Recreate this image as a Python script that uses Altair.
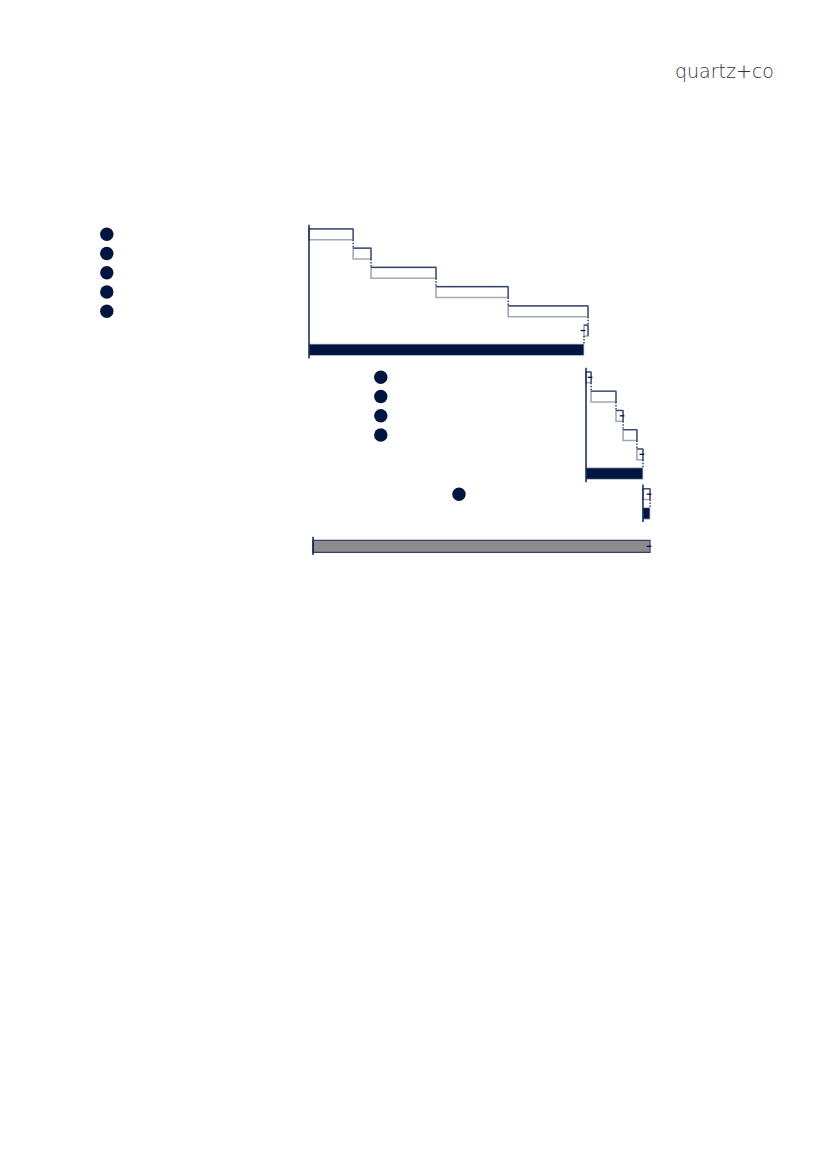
import altair as alt
import pandas as pd

# ---- data (units: % of overall total) ----
labels = ["A1", "A2", "A3", "A4", "A5", "A6", "Total A",
          "B1", "B2", "B3", "B4", "B5", "Total B",
          "C1", "Total C", "Grand total"]
starts = [0.0, 13.1, 18.4, 37.7, 59.1, 82.8, 0.0,
          82.2, 83.7, 91.1, 93.2, 97.3, 82.2,
          99.1, 99.1, 1.2]
ends = [13.1, 18.4, 37.7, 59.1, 82.8, 81.6, 81.6,
        83.7, 91.1, 93.2, 97.3, 99.1, 99.1,
        101.2, 101.2, 101.2]
kinds = ["step"] * 6 + ["total"] + ["step"] * 5 + ["total"] + ["step", "total", "grand"]
sections = [1] * 7 + [2] * 6 + [3] * 2 + [4]
marked = ["A1", "A2", "A3", "A4", "A5", "B1", "B2", "B3", "B4", "C1"]
leaders = ["A6", "B1", "B3", "B5", "C1", "Grand total"]

# ---- layout (not data) ----
NAVY = "#001641"
EDGE = "#34426b"
LIGHT = "#a3a8b8"
gap = {1: 0.0, 2: 0.43, 3: 0.5, 4: 1.21}
half = {"step": 0.28, "total": 0.3, "grand": 0.31}
marker_x = {1: -60.0, 2: 21.3, 3: 44.5}

rows = []
for i, (lab, s, e, k, sec) in enumerate(zip(labels, starts, ends, kinds, sections)):
    slot = i + gap[sec]
    rows.append(dict(label=lab, start=s, end=e, kind=k, section=sec, slot=slot,
                     top=slot - half[k], bot=slot + half[k],
                     lo=min(s, e), hi=max(s, e)))
df = pd.DataFrame(rows)

con = []
for a, b in zip(rows[:-1], rows[1:]):
    if a["section"] == b["section"]:
        con.append(dict(x=a["end"], y1=a["bot"], y2=b["top"]))
con_df = pd.DataFrame(con)

ax = []
for sec in [1, 2, 3, 4]:
    sub = df[df.section == sec]
    ax.append(dict(x=sub.start.min() if sec != 4 else sub.start.iloc[0],
                   y1=sub.slot.min() - 0.5, y2=sub.slot.max() + 0.45))
ax_df = pd.DataFrame(ax)

ld_df = df[df.label.isin(leaders)].copy()
ld_df["x1"] = ld_df["end"] - 1.0
ld_df["x2"] = ld_df["end"] + 0.4

mk_df = df[df.label.isin(marked)].copy()
mk_df["mx"] = mk_df["section"].map(marker_x)

xs = alt.Scale(domain=[-89.318, 151.335], nice=False, zero=False)
ys = alt.Scale(domain=[-11.756, 48.140], nice=False, zero=False, reverse=True)

base = alt.Chart(df)
X = alt.X("lo:Q", scale=xs, axis=None)
Y = alt.Y("top:Q", scale=ys, axis=None)

steps = base.transform_filter(alt.datum.kind == "step").mark_rect(
    fill="white", stroke=LIGHT, strokeWidth=1.6
).encode(x=X, x2="hi:Q", y=Y, y2="bot:Q")
step_top = base.transform_filter(alt.datum.kind == "step").mark_rule(
    color=EDGE, strokeWidth=1.2
).encode(x=X, x2="hi:Q", y=Y)
step_right = base.transform_filter(alt.datum.kind == "step").mark_rule(
    color=EDGE, strokeWidth=1.2
).encode(x=alt.X("hi:Q", scale=xs, axis=None), y=Y, y2="bot:Q")
totals = base.transform_filter(alt.datum.kind == "total").mark_rect(
    fill=NAVY, stroke="#c9ccd6", strokeWidth=0.8
).encode(x=X, x2="hi:Q", y=Y, y2="bot:Q")
grand = base.transform_filter(alt.datum.kind == "grand").mark_rect(
    fill="#8c8c8c", stroke=EDGE, strokeWidth=1.2
).encode(x=X, x2="hi:Q", y=Y, y2="bot:Q")

connectors = alt.Chart(con_df).mark_rule(color=NAVY, strokeWidth=1.2, strokeDash=[1.5, 1.5]).encode(
    x=alt.X("x:Q", scale=xs, axis=None),
    y=alt.Y("y1:Q", scale=ys, axis=None), y2="y2:Q",
)
axes = alt.Chart(ax_df).mark_rule(color=NAVY, strokeWidth=1.4).encode(
    x=alt.X("x:Q", scale=xs, axis=None),
    y=alt.Y("y1:Q", scale=ys, axis=None), y2="y2:Q",
)
ticks = alt.Chart(ld_df).mark_rule(color=NAVY, strokeWidth=1.3).encode(
    x=alt.X("x1:Q", scale=xs, axis=None), x2="x2:Q",
    y=alt.Y("slot:Q", scale=ys, axis=None),
)
markers = alt.Chart(mk_df).mark_circle(color=NAVY, opacity=1, size=180).encode(
    x=alt.X("mx:Q", scale=xs, axis=None),
    y=alt.Y("slot:Q", scale=ys, axis=None),
)
logo = alt.Chart(pd.DataFrame({"t": ["quartz+co"]})).mark_text(
    font="DejaVu Sans", fontWeight=200, fontSize=19, color="#333333",
    align="right", baseline="alphabetic"
).encode(x=alt.value(766), y=alt.value(70), text="t:N")

chart = alt.layer(grand, steps, step_top, step_right, totals, connectors, axes, ticks,
                  markers, logo).properties(
    width=811, height=1153, padding=0, autosize=alt.AutoSizeParams(type="none")
).configure_view(stroke=None)

chart.save("out.html", embed_options={"renderer": "svg", "actions": False})
